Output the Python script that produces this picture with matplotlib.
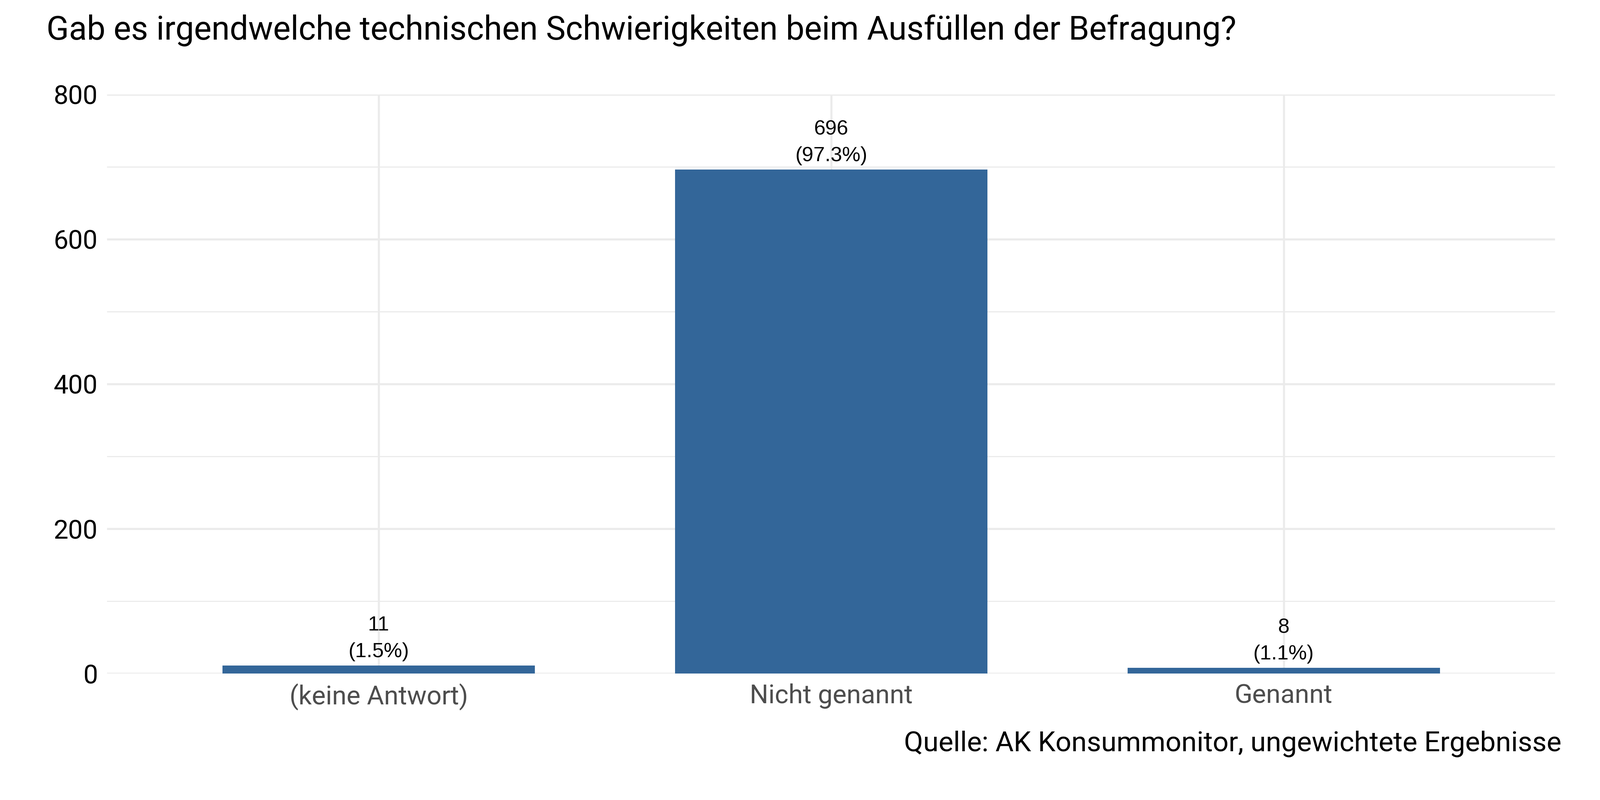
#!/usr/bin/env python3

import matplotlib
matplotlib.use("Agg")
import matplotlib.pyplot as plt
import numpy as np

categories = ["(keine Antwort)", "Nicht genannt", "Genannt"]
counts = [11, 696, 8]
percents = ["1.5%", "97.3%", "1.1%"]
y_ticks = [0, 200, 400, 600, 800]


def draw(filename: str):
    plt.rcParams['font.family'] = 'sans-serif'
    plt.rcParams['font.sans-serif'] = ['Roboto']
    fig = plt.figure(figsize=(14, 7), dpi=300)
    ax = fig.add_axes([0.067, 0.158, 0.905, 0.724])

    x = np.arange(len(categories))
    ax.bar(x, counts, width=0.69, color="#336699", zorder=2)
    for xi, c, p in zip(x, counts, percents):
        ax.text(xi, c + 6, f"{c}\n({p})", ha="center", va="bottom",
                fontsize=13, family="Liberation Sans", linespacing=1.5)

    ax.set_xlim(-0.6, 2.6)
    ax.set_ylim(0, 800)
    ax.set_xticks(x)
    ax.set_xticklabels(categories, fontsize=16.5, color="#4d4d4d")
    ax.set_yticks(y_ticks)
    ax.set_yticklabels([str(v) for v in y_ticks], fontsize=16.5, color="black")
    ax.set_yticks(np.arange(100, 800, 200), minor=True)
    ax.tick_params(which="both", length=0, pad=6)
    ax.grid(True, which="major", color="#ebebeb", linewidth=1.3, zorder=0)
    ax.grid(True, which="minor", axis="y", color="#ebebeb", linewidth=0.7, zorder=0)
    for s in ax.spines.values():
        s.set_visible(False)

    fig.text(0.029, 0.962, "Gab es irgendwelche technischen Schwierigkeiten beim Ausfüllen der Befragung?",
             fontsize=20.8, va="center", ha="left")
    fig.text(0.976, 0.07, "Quelle: AK Konsummonitor, ungewichtete Ergebnisse",
             fontsize=17.6, va="center", ha="right")
    fig.savefig(filename, dpi=300, facecolor="white")


if __name__ == "__main__":
    draw("out.png")
